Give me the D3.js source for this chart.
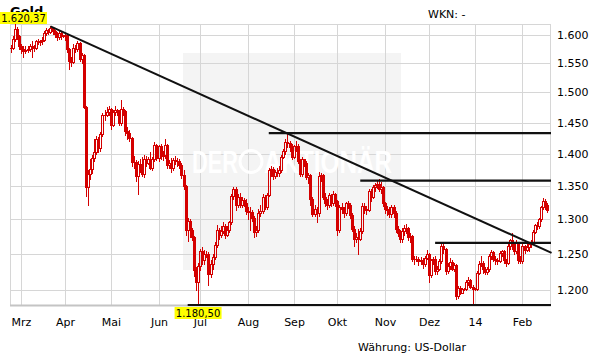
<!DOCTYPE html>
<html>
<head>
<meta charset="utf-8">
<script src="https://cdn.jsdelivr.net/npm/d3@7"></script>
<style>
  body { margin: 0; background: #fff; }
  text { font-family: "DejaVu Sans", Verdana, sans-serif; }
</style>
</head>
<body>
<div id="chart"></div>
<script>
var svgWidth = 611;
var svgHeight = 364;

var margin = { top: 24, right: 61, bottom: 59, left: 10 };
var width = svgWidth - margin.left - margin.right;
var height = svgHeight - margin.top - margin.bottom;

// trading days (weekdays) from first to last candle
var firstDay = "2013-02-22";
var lastDay = "2014-02-19";

// daily closes, one line per month
var closes = [
  1578, 1594, 1612, 1598, 1580,
  1576, 1572, 1574, 1576, 1580, 1577, 1578, 1590, 1588, 1589, 1592, 1604, 1610, 1606, 1613, 1607, 1603, 1596, 1604, 1598, 1598,
  1600, 1576, 1554, 1553, 1578, 1575, 1586, 1558, 1564, 1476, 1348, 1368, 1376, 1393, 1403, 1424, 1409, 1432, 1462, 1463, 1468, 1472,
  1446, 1468, 1470, 1467, 1450, 1473, 1469, 1436, 1433, 1425, 1387, 1387, 1365, 1384, 1377, 1369, 1392, 1386, 1392, 1378, 1392, 1413, 1393,
  1412, 1397, 1398, 1414, 1383, 1386, 1378, 1390, 1389, 1389, 1383, 1367, 1350, 1284, 1297, 1285, 1274, 1228, 1211, 1234,
  1254, 1242, 1251, 1250, 1223, 1236, 1246, 1263, 1284, 1277, 1283, 1291, 1277, 1285, 1296, 1335, 1346, 1321, 1334, 1322, 1329, 1325, 1313,
  1311, 1311, 1302, 1282, 1285, 1310, 1312, 1333, 1319, 1337, 1375, 1376, 1365, 1372, 1370, 1375, 1395, 1404, 1419, 1417, 1410, 1395,
  1412, 1412, 1389, 1369, 1392, 1386, 1363, 1367, 1330, 1308, 1315, 1309, 1366, 1367, 1333, 1325, 1322, 1336, 1324, 1338, 1327,
  1285, 1318, 1316, 1309, 1324, 1322, 1306, 1286, 1272, 1274, 1272, 1283, 1320, 1316, 1314, 1342, 1334, 1348, 1352, 1353, 1345, 1349, 1324,
  1316, 1314, 1308, 1318, 1309, 1286, 1281, 1272, 1283, 1288, 1287, 1274, 1276, 1243, 1243, 1244, 1241, 1242, 1237, 1245, 1250,
  1221, 1242, 1243, 1226, 1230, 1240, 1261, 1257, 1226, 1234, 1239, 1230, 1235, 1193, 1203, 1197, 1202, 1202, 1211, 1214, 1205, 1202,
  1202, 1224, 1237, 1238, 1229, 1225, 1229, 1247, 1253, 1244, 1242, 1241, 1252, 1254, 1242, 1238, 1262, 1270, 1263, 1255, 1267, 1242, 1240,
  1262, 1256, 1260, 1265, 1268, 1282, 1292, 1290, 1300, 1318, 1328, 1322, 1314
];

var highs = [
  1582, 1598, 1620.37, 1615, 1600,
  1584, 1580, 1580, 1581, 1585, 1590, 1582, 1592, 1594, 1592, 1596, 1607, 1613, 1612, 1616, 1614, 1610, 1606, 1608, 1606, 1600,
  1604, 1602, 1578, 1562, 1584, 1582, 1590, 1588, 1568, 1566, 1478, 1375, 1392, 1398, 1424, 1428, 1426, 1435, 1466, 1470, 1476, 1478,
  1474, 1470, 1478, 1472, 1470, 1487, 1476, 1470, 1442, 1438, 1427, 1396, 1390, 1388, 1392, 1395, 1398, 1396, 1395, 1402, 1395, 1418, 1416,
  1414, 1416, 1405, 1424, 1416, 1390, 1393, 1393, 1396, 1394, 1392, 1386, 1374, 1352, 1302, 1300, 1288, 1276, 1232, 1238,
  1258, 1260, 1256, 1254, 1253, 1242, 1250, 1268, 1292, 1288, 1290, 1296, 1294, 1290, 1298, 1338, 1348, 1349, 1338, 1340, 1334, 1332, 1330,
  1318, 1318, 1314, 1305, 1290, 1316, 1322, 1338, 1336, 1340, 1378, 1381, 1379, 1375, 1378, 1380, 1398, 1408, 1423, 1433, 1420, 1415,
  1414, 1420, 1415, 1392, 1395, 1392, 1388, 1370, 1368, 1333, 1322, 1318, 1371, 1370, 1368, 1340, 1330, 1340, 1338, 1342, 1340,
  1329, 1321, 1325, 1318, 1326, 1327, 1324, 1310, 1290, 1280, 1286, 1287, 1324, 1325, 1320, 1345, 1345, 1351, 1355, 1359, 1361, 1356, 1350,
  1326, 1320, 1318, 1322, 1322, 1312, 1290, 1284, 1287, 1292, 1293, 1289, 1280, 1278, 1248, 1248, 1246, 1246, 1245, 1248, 1256,
  1252, 1244, 1246, 1248, 1234, 1243, 1267, 1264, 1259, 1238, 1245, 1242, 1238, 1236, 1206, 1206, 1204, 1203, 1214, 1218, 1216, 1208,
  1204, 1227, 1240, 1248, 1240, 1232, 1232, 1250, 1256, 1255, 1248, 1245, 1254, 1256, 1256, 1244, 1265, 1272, 1280, 1266, 1270, 1268, 1248,
  1264, 1263, 1264, 1267, 1270, 1285, 1294, 1296, 1302, 1320, 1332, 1331, 1325
];

var lows = [
  1570, 1576, 1590, 1594, 1575,
  1568, 1562, 1568, 1570, 1571, 1562, 1572, 1576, 1584, 1583, 1584, 1590, 1600, 1602, 1604, 1603, 1597, 1592, 1593, 1594, 1596,
  1592, 1570, 1540, 1546, 1550, 1570, 1572, 1555, 1550, 1474, 1335, 1321, 1360, 1370, 1388, 1400, 1402, 1405, 1428, 1455, 1460, 1462,
  1440, 1444, 1462, 1462, 1446, 1446, 1462, 1430, 1424, 1420, 1380, 1377, 1358, 1338, 1372, 1366, 1363, 1380, 1384, 1376, 1374, 1389, 1390,
  1388, 1392, 1390, 1394, 1378, 1377, 1372, 1374, 1384, 1380, 1377, 1362, 1345, 1278, 1269, 1275, 1270, 1220, 1200, 1180.5,
  1228, 1236, 1236, 1246, 1208, 1218, 1230, 1244, 1260, 1272, 1274, 1280, 1273, 1276, 1282, 1294, 1330, 1314, 1318, 1318, 1318, 1320, 1308,
  1300, 1284, 1297, 1274, 1276, 1282, 1305, 1310, 1315, 1315, 1335, 1366, 1360, 1362, 1365, 1366, 1372, 1393, 1400, 1410, 1405, 1392,
  1393, 1405, 1385, 1365, 1365, 1380, 1360, 1355, 1322, 1305, 1305, 1296, 1305, 1358, 1330, 1320, 1316, 1318, 1320, 1322, 1320,
  1277, 1282, 1310, 1303, 1306, 1317, 1302, 1283, 1262, 1268, 1251, 1270, 1281, 1310, 1308, 1312, 1328, 1332, 1343, 1347, 1342, 1340, 1320,
  1310, 1306, 1304, 1303, 1304, 1282, 1276, 1267, 1268, 1278, 1280, 1270, 1268, 1240, 1236, 1240, 1235, 1236, 1231, 1234, 1243,
  1212, 1218, 1237, 1223, 1222, 1228, 1238, 1252, 1222, 1224, 1230, 1228, 1226, 1188, 1190, 1195, 1196, 1200, 1200, 1208, 1203, 1182,
  1200, 1200, 1222, 1234, 1224, 1222, 1223, 1226, 1244, 1240, 1237, 1236, 1239, 1248, 1238, 1234, 1236, 1258, 1258, 1250, 1252, 1238, 1238,
  1238, 1252, 1254, 1255, 1260, 1266, 1280, 1286, 1288, 1298, 1316, 1315, 1311
];

var monthLabels = ["Mrz", "Apr", "Mai", "Jun", "Jul", "Aug", "Sep", "Okt", "Nov", "Dez", "14", "Feb"];
var yTicks = [1200, 1250, 1300, 1350, 1400, 1450, 1500, 1550, 1600];

// support / resistance lines: price level and the day where the line starts
var levelPrices = [1433, 1358, 1266, 1180.5];
var levelStarts = ["2013-08-15", "2013-10-16", "2013-12-05", "2013-06-21"];

// downtrend line through two points (day index, price)
var trendIdx = [19, 260];
var trendPrice = [1616, 1252];

var parseDay = d3.timeParse("%Y-%m-%d");
var days = d3.timeDay.range(parseDay(firstDay), d3.timeDay.offset(parseDay(lastDay), 1))
  .filter(function(d) { return d.getDay() !== 0 && d.getDay() !== 6; });

var data = closes.map(function(c, i) {
  return {
    date: days[i],
    open: i === 0 ? c : closes[i - 1],
    high: highs[i],
    low: lows[i],
    close: c
  };
});

function dayIndex(s) {
  var t = parseDay(s).getTime();
  return d3.bisector(function(d) { return d.date.getTime(); }).left(data, t);
}

var svg = d3.select("#chart")
  .append("svg")
  .attr("width", svgWidth)
  .attr("height", svgHeight);

var chartGroup = svg.append("g")
  .attr("transform", `translate(${margin.left}, ${margin.top})`);

var maxHigh = d3.max(data, d => d.high);
var minLow = d3.min(data, d => d.low);

var xScale = d3.scaleLinear()
  .domain([-0.45, 259.25])
  .range([0, width]);

var yScale = d3.scaleLog()
  .domain([minLow, maxHigh])
  .range([height, 0]);

// month ticks at first trading day of each month
var monthIdx = [];
data.forEach(function(d, i) {
  if (i > 0 && d.date.getMonth() !== data[i - 1].date.getMonth()) monthIdx.push(i);
});

// watermark box
chartGroup.append("rect")
  .attr("x", 173).attr("y", 29)
  .attr("width", 218).attr("height", 217)
  .attr("fill", "#f4f4f4");

// grid
chartGroup.append("g")
  .selectAll("line")
  .data(yTicks)
  .enter().append("line")
  .attr("x1", 0).attr("x2", width)
  .attr("y1", d => Math.round(yScale(d)) + 0.5)
  .attr("y2", d => Math.round(yScale(d)) + 0.5)
  .attr("stroke", "#d6d6d6");

chartGroup.append("g")
  .selectAll("line")
  .data(monthIdx)
  .enter().append("line")
  .attr("x1", d => Math.round(xScale(d)) + 0.5)
  .attr("x2", d => Math.round(xScale(d)) + 0.5)
  .attr("y1", 0).attr("y2", height)
  .attr("stroke", "#d6d6d6");

chartGroup.append("rect")
  .attr("x", 0.5).attr("y", 0.5)
  .attr("width", width).attr("height", height)
  .attr("fill", "none")
  .attr("stroke", "#d6d6d6");

chartGroup.append("line")
  .attr("x1", 0).attr("x2", width + 1)
  .attr("y1", height + 0.5).attr("y2", height + 0.5)
  .attr("stroke", "#c4c4c4")
  .attr("stroke-width", 2);

// watermark text
var wm = chartGroup.append("g").attr("fill", "#fff").attr("font-weight", "bold");
wm.append("text")
  .attr("x", 182).attr("y", 149)
  .attr("font-size", 32)
  .attr("textLength", 46).attr("lengthAdjust", "spacingAndGlyphs")
  .style("font-family", "Liberation Sans, Arial, sans-serif")
  .text("DER");
wm.append("circle")
  .attr("cx", 241).attr("cy", 137.5).attr("r", 11)
  .attr("fill", "none").attr("stroke", "#fff").attr("stroke-width", 3);
wm.append("text")
  .attr("x", 254).attr("y", 149)
  .attr("font-size", 32)
  .attr("textLength", 128).attr("lengthAdjust", "spacingAndGlyphs")
  .style("font-family", "Liberation Sans, Arial, sans-serif")
  .text("AKTIONÄR");

// candlesticks: 3px bodies, hollow when rising, filled when falling
var candles = chartGroup.append("g")
  .attr("fill", "#d40000")
  .attr("shape-rendering", "crispEdges");

function px(g, x, y0, y1, w) {
  g.append("rect")
    .attr("x", x).attr("y", Math.min(y0, y1))
    .attr("width", w || 1).attr("height", Math.abs(y1 - y0) + 1);
}

data.forEach(function(d, i) {
  var x = Math.round(xScale(i));
  var yH = Math.round(yScale(d.high));
  var yL = Math.round(yScale(d.low));
  var yTop = Math.round(yScale(Math.max(d.open, d.close)));
  var yBot = Math.round(yScale(Math.min(d.open, d.close)));
  if (yTop > yH) px(candles, x, yH, yTop - 1);
  if (yL > yBot) px(candles, x, yBot + 1, yL);
  if (d.close < d.open || yBot - yTop < 2) {
    px(candles, x - 1, yTop, yBot, 3);
  } else {
    px(candles, x - 1, yTop, yBot);
    px(candles, x + 1, yTop, yBot);
    px(candles, x - 1, yTop, yTop, 3);
    px(candles, x - 1, yBot, yBot, 3);
  }
});

// horizontal levels
chartGroup.append("g")
  .selectAll("line")
  .data(levelPrices)
  .enter().append("line")
  .attr("x1", (d, i) => xScale(dayIndex(levelStarts[i])))
  .attr("x2", width + 1)
  .attr("y1", d => yScale(d))
  .attr("y2", d => yScale(d))
  .attr("stroke", "#111")
  .attr("stroke-width", 2.2);

// trend line
chartGroup.append("line")
  .attr("x1", xScale(trendIdx[0])).attr("y1", yScale(trendPrice[0]))
  .attr("x2", xScale(trendIdx[1])).attr("y2", yScale(trendPrice[1]))
  .attr("stroke", "#111")
  .attr("stroke-width", 2);

// y axis labels on the right
chartGroup.append("g")
  .selectAll("text")
  .data(yTicks)
  .enter().append("text")
  .attr("x", width + 7)
  .attr("y", d => yScale(d) + 4)
  .attr("font-size", 11)
  .attr("fill", "#000")
  .text(d => d3.format(",")(d).replace(",", "."));

// month labels
chartGroup.append("g")
  .selectAll("text")
  .data(monthIdx)
  .enter().append("text")
  .attr("x", d => Math.round(xScale(d)) + 0.5)
  .attr("y", height + 21)
  .attr("text-anchor", "middle")
  .attr("font-size", 11)
  .attr("fill", "#000")
  .text((d, i) => monthLabels[i]);

// title and info texts
svg.append("text")
  .attr("x", 10).attr("y", 16)
  .attr("font-size", 13).attr("font-weight", "bold")
  .text("Gold");

svg.append("text")
  .attr("x", 428).attr("y", 18)
  .attr("font-size", 11)
  .text("WKN: -");

svg.append("text")
  .attr("x", 358).attr("y", 351)
  .attr("font-size", 11)
  .text("Währung: US-Dollar");

// high / low markers
function fmtPrice(v) {
  return d3.format(",.2f")(v).replace(/,/g, "#").replace(".", ",").replace(/#/g, ".");
}

var iMax = d3.maxIndex(data, d => d.high);
var iMin = d3.minIndex(data, d => d.low);

var markers = [
  { v: maxHigh, cx: Math.max(23.5, margin.left + xScale(iMax)), y: margin.top + yScale(maxHigh) - 12 },
  { v: minLow, cx: margin.left + xScale(iMin), y: margin.top + yScale(minLow) + 2 }
];

var mk = svg.append("g").selectAll("g").data(markers).enter().append("g");
mk.append("rect")
  .attr("x", d => d.cx - 23.5).attr("y", d => d.y)
  .attr("width", 47).attr("height", 12)
  .attr("fill", "#ffff00");
mk.append("text")
  .attr("x", d => d.cx).attr("y", d => d.y + 10)
  .attr("text-anchor", "middle")
  .attr("font-size", 10)
  .text(d => fmtPrice(d.v));
</script>
</body>
</html>
